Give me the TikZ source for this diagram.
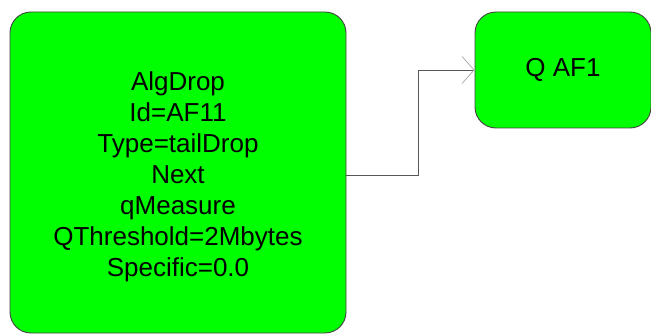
\documentclass[tikz,border=0pt]{standalone}
\usepackage{fontspec}
\setmainfont{Liberation Sans}
\usetikzlibrary{arrows.meta}
\definecolor{boxgreen}{HTML}{00FF00}
\definecolor{edgegray}{HTML}{444444}
\begin{document}
\begin{tikzpicture}[x=1pt,y=-1pt,
  greenbox/.style={draw=edgegray,line width=0.9pt,fill=boxgreen,rounded corners=21pt,
    align=center,inner sep=0pt},
  boxtext/.style={align=center,inner sep=0pt,font=\fontsize{26}{31}\selectfont},
  link/.style={draw=edgegray!90,line width=0.9pt,
    -{Straight Barb[length=12pt,width=27pt,line width=0.7pt,color=gray!70]}}]
  \useasboundingbox (0,0) rectangle (651,334);
  % queue algorithm block
  \node[greenbox,minimum width=336pt,minimum height=321pt] (alg) at (178,172.5) {};
  \node[boxtext] (algtext) at ([yshift=-4.5pt]alg.center)
    {AlgDrop\\Id=AF11\\Type=tailDrop\\Next\\qMeasure\\QThreshold=2Mbytes\\Specific=0.0};
  % target queue
  \node[greenbox,minimum width=176pt,minimum height=116pt,font=\fontsize{26}{31}\selectfont]
    (q) at (563,70) {Q AF1};
  \coordinate (bend) at (418,175);
  \draw[link] (alg.east |- bend) -- (bend) |- (q.west);
\end{tikzpicture}
\end{document}
